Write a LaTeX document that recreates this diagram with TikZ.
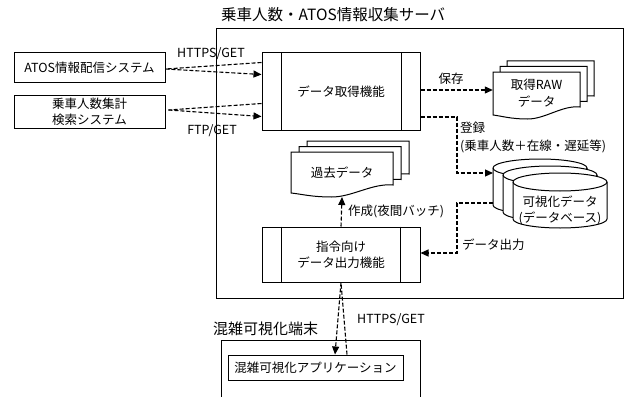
\documentclass[tikz,border=0pt]{standalone}
\usepackage{fontspec}
\setmainfont{Noto Sans CJK JP}
\usetikzlibrary{arrows.meta,calc}
\newcommand\lblfont{\fontsize{12.5}{16}\selectfont}
\newcommand\ttlfont{\fontsize{15.5}{18}\selectfont}
\newcommand\dbcyl[3]{%
  \filldraw[fill=white,line width=1pt] (#1,#2) -- (#1,#3)
    arc[start angle=180,end angle=360,x radius=47pt,y radius=9pt]
    -- ({#1+94},#2)
    arc[start angle=0,end angle=180,x radius=47pt,y radius=9pt] -- cycle;
  \draw[line width=1pt] (#1,#2) arc[start angle=180,end angle=360,x radius=47pt,y radius=9pt];
}
\newcommand\docshape[4]{%
  \filldraw[fill=white,line width=1pt] (#1,#2) -- ({#1+#3},#2) -- ({#1+#3},{#2+#4-8})
    .. controls ({#1+0.8*#3},{#2+#4-10}) and ({#1+0.6*#3},{#2+#4+4}) .. ({#1+0.4*#3},{#2+#4+4})
    .. controls ({#1+0.2*#3},{#2+#4+4}) and ({#1+0.1*#3},{#2+#4+1}) .. (#1,{#2+#4}) -- cycle;
}
\begin{document}
\begin{tikzpicture}[x=1pt,y=-1pt,
  box/.style={draw,line width=1pt,fill=white,inner sep=0pt,align=center,font=\lblfont},
  conn/.style={line width=1.1pt,dash pattern=on 4pt off 2pt},
  arr/.style={conn,-{Triangle[length=8pt,width=7pt]}},
  lbl/.style={inner sep=0pt,font=\lblfont,align=left},
]
\useasboundingbox (0,0) rectangle (626,396);

% server frame and title
\node[draw,line width=1pt,minimum width=407pt,minimum height=269pt,inner sep=0pt] (srv) at (419.5,163.5) {};
\node[lbl,font=\ttlfont,anchor=west] (srvttl) at (221,15) {乗車人数・ATOS情報収集サーバ};

% external systems
\node[box,minimum width=151pt,minimum height=29pt] (atos) at (89.5,67.5) {ATOS情報配信システム};
\node[box,minimum width=151pt,minimum height=33pt] (jsk) at (89.5,111.5) {乗車人数集計\\検索システム};

% data acquisition function
\node[box,minimum width=158pt,minimum height=77pt] (get) at (341,91.5) {データ取得機能};
\draw[line width=1pt] ([xshift=20pt]get.north west) -- ([xshift=20pt]get.south west);
\draw[line width=1pt] ([xshift=-19pt]get.north east) -- ([xshift=-19pt]get.south east);

% output function
\node[box,minimum width=158pt,minimum height=55pt] (cmd) at (341,254.5) {指令向け\\データ出力機能};
\draw[line width=1pt] ([xshift=20pt]cmd.north west) -- ([xshift=20pt]cmd.south west);
\draw[line width=1pt] ([xshift=-20pt]cmd.north east) -- ([xshift=-20pt]cmd.south east);

% RAW data documents
\docshape{507}{61}{87}{43}
\docshape{500}{66.5}{87}{43}
\docshape{493}{72}{87}{43}
\node[lbl,align=center,minimum width=87pt,minimum height=43pt,font=\fontsize{12.5}{17}\selectfont] (raw) at (536.5,93.5) {取得RAW\\データ};

% past data documents
\docshape{307}{141}{102}{41}
\docshape{299}{146.5}{102}{41}
\docshape{291}{152}{102}{41}
\node[lbl,align=center,minimum width=102pt,minimum height=41pt] (past) at (342,172.5) {過去データ};
\coordinate (pastwave) at (342,197);

% database cylinders
\dbcyl{493}{168}{205}
\dbcyl{503}{175}{212}
\dbcyl{513}{182}{219}
\node[lbl,align=center] (db) at (560,210) {可視化データ\\(データベース)};
\coordinate (dbin) at (493,173);
\coordinate (dbout) at (493,203);

% terminal
\node[lbl,font=\fontsize{15}{18}\selectfont,anchor=west] (termttl) at (213,329) {混雑可視化端末};
\draw[line width=1pt] (221,397) -- (221,340) -- (420,340) -- (420,397);
\node[box,minimum width=175pt,minimum height=25pt] (app) at (315.5,367.5) {混雑可視化アプリケーション};

% connectors: external systems
\draw[conn] ([yshift=-10pt]get.north west) -- ([yshift=-1.5pt]atos.east);
\draw[arr] ([yshift=-1.5pt]atos.east) -- ([yshift=-22pt]get.north west);
\draw[conn] ([yshift=-51pt]get.north west) -- ([xshift=3pt,yshift=1.5pt]jsk.east);
\draw[arr] ([xshift=3pt,yshift=1.5pt]jsk.east) -- ([yshift=-64pt]get.north west);
\node[lbl] (l1) at (211,54) {HTTPS/GET};
\node[lbl] (l2) at (212,131) {FTP/GET};

% save
\draw[arr] ([yshift=1.5pt]get.east) -- ([yshift=1.5pt]get.east -| raw.west);
\node[lbl] (l3) at (451,79) {保存};

% register
\coordinate (regA) at (457,117);
\coordinate (regB) at (457,173);
\draw[arr] ([yshift=-25.5pt]get.east) -- (regA) -- (regB) -- (dbin);
\node[lbl,anchor=west] (l4) at (460,128) {登録};
\node[lbl,anchor=west] (l5) at (460,146) {(乗車人数＋在線・遅延等)};

% data output
\coordinate (outA) at (457,203);
\coordinate (outB) at (457,253);
\draw[arr] (dbout) -- (outA) -- (outB) -- ([yshift=1.5pt]cmd.east);
\node[lbl,anchor=west] (l6) at (462,245) {データ出力};

% create past data
\draw[arr] (cmd.north) -- (pastwave);
\node[lbl,anchor=west] (l7) at (348,211) {作成(夜間バッチ)};

% terminal link
\draw[arr] (cmd.south) -- ([xshift=19.5pt]app.north);
\draw[conn] ([xshift=31.5pt]app.north) -- (cmd.south);
\node[lbl] (l8) at (391,320) {HTTPS/GET};
\end{tikzpicture}
\end{document}
